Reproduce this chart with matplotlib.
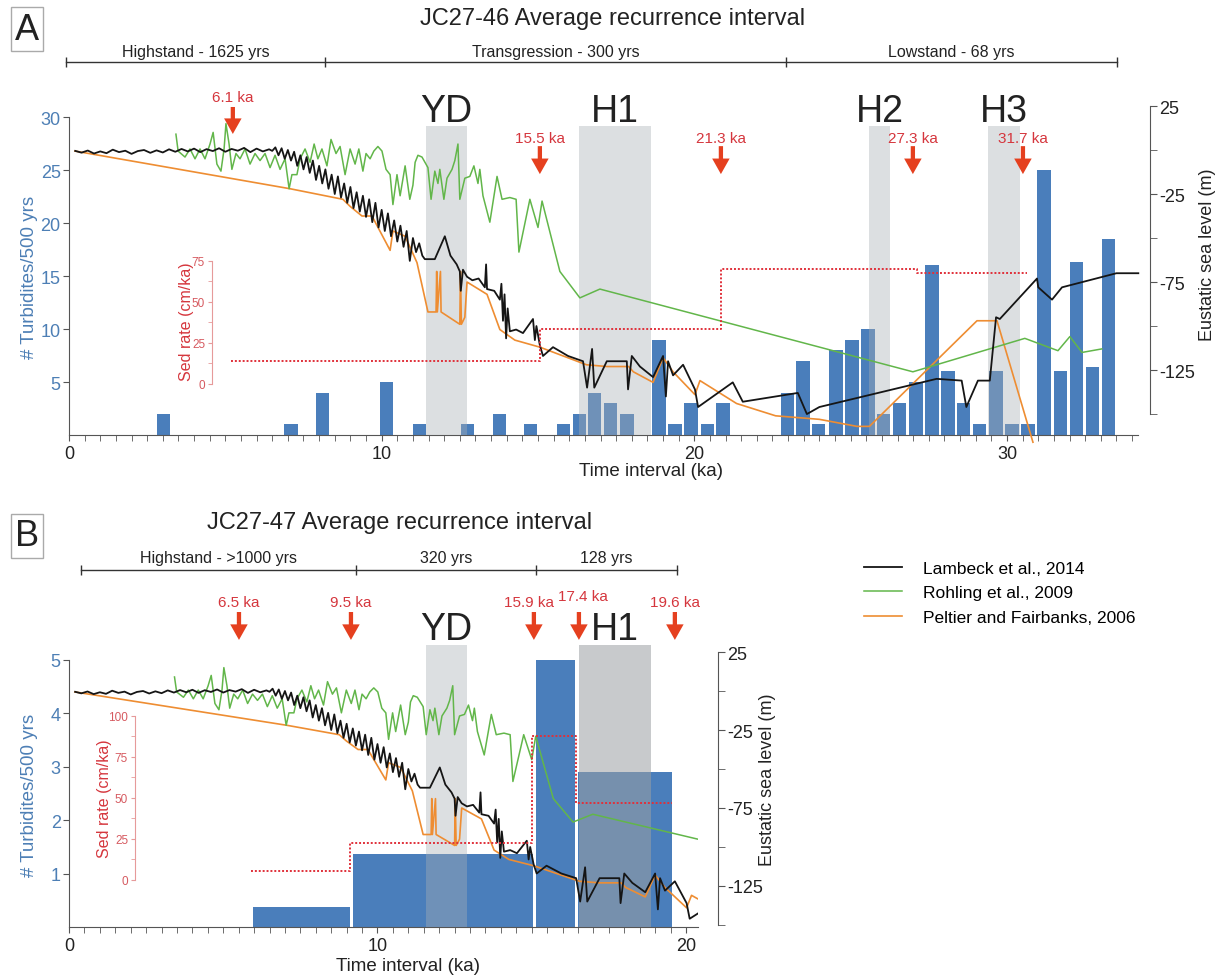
import matplotlib
matplotlib.use("Agg")
import matplotlib.pyplot as plt
import matplotlib.transforms as mtransforms
from matplotlib.ticker import MultipleLocator

plt.rcParams['font.family'] = ['Liberation Sans', 'DejaVu Sans']
plt.rcParams['axes.unicode_minus'] = False

W, H = 1226, 979

# ---------------- data ----------------
# JC27-46: turbidites per 500 yr bin (bin centre, ka)
a_bin_ka = [3.02, 7.10, 8.11, 10.15, 11.20, 12.74, 13.76, 14.77, 15.81, 16.32,
            16.81, 17.33, 17.85, 18.87, 19.38, 19.89, 20.41, 20.92, 22.98, 23.48,
            23.98, 24.53, 25.04, 25.55, 26.05, 26.57, 27.09, 27.60, 28.11, 28.62,
            29.13, 29.65, 30.16, 30.67, 31.18, 31.71, 32.22, 32.73, 33.24]
a_count = [2, 1, 4, 5, 1, 1, 2, 1, 1, 2,
           4, 3, 2, 9, 1, 3, 1, 3, 4, 7,
           1, 8, 9, 10, 2, 3, 5, 16, 6, 3,
           1, 6, 1, 1, 25, 6, 16.3, 6.4, 18.5]

# JC27-47: averaged turbidite frequency per interval
b_bin_start = [5.95, 9.20, 15.15, 16.50]
b_bin_end = [9.10, 15.05, 16.40, 19.55]
b_count = [0.37, 1.37, 5.0, 2.9]

# sedimentation rate steps (cm/ka)
a_sed_edges = [5.18, 15.06, 20.85, 27.12, 30.64]
a_sed_rate = [14, 33.5, 70, 67.7]
b_sed_edges = [5.90, 9.11, 15.0, 16.43, 19.55]
b_sed_rate = [5.7, 22.8, 87.8, 47]

# eustatic sea level curves (ka, m)
lambeck_ka = [0.2, 0.4, 0.6, 0.8, 1.0, 1.2, 1.4, 1.6, 1.8, 2.0, 2.2, 2.4, 2.6, 2.8,
              3.0, 3.2, 3.4, 3.6, 3.8, 4.0, 4.2, 4.4, 4.6, 4.8, 5.0, 5.2, 5.4, 5.6,
              5.8, 6.0, 6.2, 6.4, 6.5, 6.6, 6.7, 6.8, 6.9, 7.0, 7.1, 7.2, 7.3, 7.4,
              7.5, 7.6, 7.7, 7.8, 7.9, 8.0, 8.1, 8.2, 8.3, 8.4, 8.5, 8.6, 8.7, 8.8,
              8.9, 9.0, 9.1, 9.2, 9.3, 9.4, 9.5, 9.6, 9.7, 9.8, 9.9, 10.0, 10.1,
              10.2, 10.3, 10.4, 10.5, 10.6, 10.7, 10.8, 10.9, 11.0, 11.1, 11.2, 11.3,
              11.38, 11.7, 12.02, 12.2, 12.4, 12.5, 12.53, 12.6, 12.73, 12.9, 13.1,
              13.3, 13.34, 13.37, 13.6, 13.78, 13.83, 13.88, 13.93, 13.98, 14.03,
              14.1, 14.3, 14.52, 14.84, 14.9, 14.95, 15.06, 15.16, 15.48, 15.96,
              16.44, 16.57, 16.73, 16.8, 17.2, 17.84, 17.88, 18.0, 18.26, 18.68,
              19.0, 19.09, 19.16, 19.32, 19.64, 20.02, 20.12, 21.23, 21.55, 23.31,
              23.6, 24.0, 27.75, 28.55, 28.7, 29.07, 29.45, 29.65, 29.77, 30.96,
              31.0, 31.44, 31.76, 33.5, 34.2]
lambeck_m = [-0.5, -1.5, -0.3, -2.0, -0.8, -1.8, 0.2, -1.2, -0.4, -2.2, -0.6, 0.0, -1.6, -0.2,
             -1.4, 0.4, -1.0, 0.6, -0.8, 0.8, -1.2, 0.5, -0.6, 1.0, -1.0, 0.6, -0.4, 1.2,
             -1.2, 0.8, -0.8, 0.4, -0.5, 1.5, -3, 1, -5, 0, -6, -1, -9, -3,
             -11, -4, -13, -6, -17, -9, -19, -11, -22, -14, -25, -15, -27, -19,
             -30, -21, -33, -24, -35, -26, -38, -28, -41, -30, -44, -34, -46,
             -36, -49, -40, -52, -43, -55, -46, -63, -50, -58, -53, -60,
             -62, -62, -49, -60, -65, -69, -80, -68, -72, -74, -73,
             -78, -65, -79, -80, -85, -76, -97, -82, -107, -90,
             -103, -102, -104, -96, -108, -100, -111, -117, -112, -117,
             -120, -135, -113, -135, -120, -120, -136, -117, -123, -129,
             -117, -140, -120, -128, -122, -136, -146, -132, -143, -138,
             -150, -146, -130, -131, -146, -131, -131, -95, -96, -73,
             -78, -85, -78, -70, -70]

rohling_ka = [3.42, 3.49, 3.71, 3.87, 4.03, 4.19, 4.35, 4.51, 4.61, 4.73, 4.86, 4.96,
              5.02, 5.12, 5.21, 5.34, 5.47, 5.63, 5.79, 5.95, 6.11, 6.27, 6.43, 6.59,
              6.75, 6.91, 7.04, 7.13, 7.29, 7.39, 7.55, 7.71, 7.84, 7.96, 8.09, 8.25,
              8.38, 8.54, 8.67, 8.83, 8.99, 9.15, 9.27, 9.40, 9.50, 9.63, 9.75, 9.88,
              10.01, 10.14, 10.27, 10.36, 10.49, 10.59, 10.75, 10.90, 11.00, 11.07,
              11.16, 11.29, 11.48, 11.58, 11.70, 11.80, 11.86, 11.99, 12.09, 12.25,
              12.34, 12.44, 12.50, 12.66, 12.82, 12.95, 13.08, 13.14, 13.24, 13.46,
              13.69, 13.85, 14.10, 14.30, 14.39, 14.74, 15.00, 15.13, 15.70, 16.34,
              16.98, 26.99, 30.57, 31.63, 32.01, 32.40, 33.03]
rohling_m = [9, -0.6, -4, 0.6, -5, 0.6, -5, 3.4, 10, -8, -12, 0.6,
             15, 3.4, -11, -2, -5, 0.6, -8, -2, -6, -2, -10, -3,
             -11, -5, -22, -14, -14, -5, 0.6, -7, 3.4, -5, 0.6, -9,
             6, -2, 2, -14, 0.6, -8, 0.6, -12, -2, -5, -0.6, 2,
             -0.6, -11, -14, -31, -14, -26, -9, -28, -20, -7,
             -3, -4, -10, -28, -12, -19, -11, -28, -16, -11,
             -6, 3.4, -28, -16, -15, -9, -19, -11, -26, -41,
             -15, -28, -27, -28, -58, -28, -44, -29, -69, -84,
             -79, -126, -107, -114, -106, -115, -113]

peltier_ka = [0.19, 7.07, 8.76, 8.99, 9.37, 9.69, 10.27, 10.36, 10.75, 11.13, 11.48,
              11.74, 11.76, 11.78, 11.88, 11.90, 12.50, 12.52, 12.55, 12.66, 12.73,
              13.37, 13.78, 14.26, 15.06, 16.55, 17.20, 17.90, 18.05, 18.68, 19.00,
              19.32, 20.02, 20.18, 21.35, 22.60, 24.00, 24.60, 25.20, 25.60, 29.04,
              29.68, 30.83]
peltier_m = [-0.6, -22, -28, -32, -37.5, -37.5, -57, -46, -49, -64, -92,
             -92, -69, -92, -69, -92, -99, -69, -99, -95, -75,
             -82, -102, -108, -112, -122, -123, -123, -126, -132, -118,
             -126, -139, -131, -144, -151, -153, -155, -157, -157, -97,
             -97, -166]

# climate events (ka)
a_events = ['YD', 'H1', 'H2', 'H3']
a_event_start = [11.42, 16.31, 25.58, 29.39]
a_event_end = [12.73, 18.61, 26.26, 30.41]
b_events = ['YD', 'H1']
b_event_start = [11.57, 16.53]
b_event_end = [12.90, 18.87]

# sed-rate change arrows
a_arrow_ka = [5.24, 15.06, 20.85, 26.99, 30.51]
a_arrow_lbl = ['6.1 ka', '15.5 ka', '21.3 ka', '27.3 ka', '31.7 ka']
b_arrow_ka = [5.51, 9.14, 15.07, 16.53, 19.64]
b_arrow_lbl = ['6.5 ka', '9.5 ka', '15.9 ka', '17.4 ka', '19.6 ka']

# sea level stands (ka)
a_stand_edges = [-0.1, 8.19, 22.93, 33.51]
a_stand_lbl = ['Highstand - 1625 yrs', 'Transgression - 300 yrs', 'Lowstand - 68 yrs']
b_stand_edges = [0.39, 9.30, 15.14, 19.71]
b_stand_lbl = ['Highstand - >1000 yrs', '320 yrs', '128 yrs']

# ---------------- style ----------------
BAR = '#4a7ebb'
BLUE_TXT = '#4d7fb5'
RED_TXT = '#d5363d'
ARROW = '#e5401f'
SPINE = '#555555'
C_LAMB = '#151515'
C_ROHL = '#62b64a'
C_PELT = '#ee8d32'
PT = 72 / 100  # points per pixel at dpi 100

fig = plt.figure(figsize=(W / 100, H / 100), dpi=100)


def px_axes(x0, y0, x1, y1):
    return fig.add_axes([x0 / W, 1 - y1 / H, (x1 - x0) / W, (y1 - y0) / H])


def ftext(x, y, s, **kw):
    fig.text(x / W, 1 - y / H, s, **kw)


def blend(ax):
    return mtransforms.blended_transform_factory(ax.transData, ax.transAxes)


def panel(box, xmax, ytop, yticks, sl_lim, sed_lim, sed_pos, sed_ticks, sl_offset_px,
          clip_lines):
    ax = px_axes(*box)
    ax.set_xlim(0, xmax)
    ax.set_ylim(0, ytop)
    for s in ['top', 'right']:
        ax.spines[s].set_visible(False)
    for s in ['left', 'bottom']:
        ax.spines[s].set_color(SPINE)
    ax.spines['left'].set_bounds(0, yticks[-1])
    ax.set_yticks(yticks)
    ax.tick_params(axis='y', colors=SPINE, labelcolor=BLUE_TXT, labelsize=13,
                   length=4, pad=2)
    ax.xaxis.set_minor_locator(MultipleLocator(0.5))
    ax.tick_params(axis='x', which='both', colors=SPINE, labelcolor='#222',
                   labelsize=13, length=4, pad=3)

    # sea level axis
    sl = ax.twinx()
    sl.set_ylim(*sl_lim)
    for s in ['top', 'left', 'bottom']:
        sl.spines[s].set_visible(False)
    sl.spines['right'].set_position(('outward', sl_offset_px * PT))
    sl.spines['right'].set_bounds(-150, 25)
    sl.spines['right'].set_color(SPINE)
    sl.set_yticks([25, -25, -75, -125])
    sl.set_yticks([0, -50, -100, -150], minor=True)
    sl.tick_params(axis='y', which='both', colors=SPINE, labelcolor='#222',
                   labelsize=13, length=5, pad=1.5)
    lp, = sl.plot(peltier_ka, peltier_m, color=C_PELT, lw=1.2, clip_on=clip_lines)
    lr, = sl.plot(rohling_ka, rohling_m, color=C_ROHL, lw=1.1, clip_on=clip_lines)
    ll, = sl.plot(lambeck_ka, lambeck_m, color=C_LAMB, lw=1.3, clip_on=clip_lines)

    # sed rate inset axis
    sd = ax.twinx()
    sd.set_ylim(*sed_lim)
    for s in sd.spines.values():
        s.set_visible(False)
    sd.yaxis.tick_left()
    sd.spines['left'].set_visible(True)
    sd.spines['left'].set_position(('axes', sed_pos))
    sd.spines['left'].set_bounds(0, sed_ticks[-1])
    sd.spines['left'].set_color('#e69a9a')
    sd.set_yticks(sed_ticks)
    sd.set_yticks([t + 12.5 for t in sed_ticks[:-1]], minor=True)
    sd.tick_params(axis='y', which='both', colors='#e69a9a', labelcolor='#d65a60',
                   labelsize=8.5, length=3, pad=2)
    return ax, sl, sd, (ll, lr, lp)


def stand_bar(ax, edges, labels, y_line, y_text):
    tr = blend(ax)
    ax.plot(edges, [y_line] * len(edges), color='#333', lw=1, marker='|', ms=7,
            mew=1, transform=tr, clip_on=False)
    for i, lbl in enumerate(labels):
        ax.text((edges[i] + edges[i + 1]) / 2, y_text, lbl, transform=tr,
                ha='center', va='center', fontsize=11.5, color='#222')


def arrow(ax, x, y_top, y_tip, lbl, y_lbl, dx=0.0):
    tr = blend(ax)
    ax.annotate('', xy=(x, y_tip), xytext=(x, y_top), xycoords=tr, textcoords=tr,
                arrowprops=dict(arrowstyle='simple,head_width=0.9,head_length=0.8,'
                                'tail_width=0.22', color=ARROW, lw=0,
                                shrinkA=0, shrinkB=0, mutation_scale=14))
    ax.text(x + dx, y_lbl, lbl, transform=tr, ha='center', va='center',
            fontsize=11, color=RED_TXT)


# ================= panel A =================
axA, slA, sdA, lines = panel((69, 107, 1138, 436), 34.19, 31.04, [5, 10, 15, 20, 25, 30],
                             (-161.9, 25), (-31.1, 169.5), 0.1338, [0, 25, 50, 75], 12,
                             False)
axA.set_xticks([0, 10, 20, 30])
for t in axA.get_xticklabels():
    t.set_family(['Liberation Sans Narrow', 'Liberation Sans'])
axA.bar(a_bin_ka, a_count, width=0.425, color=BAR, zorder=2)
for s, e, name in zip(a_event_start, a_event_end, a_events):
    axA.axvspan(s, e, ymin=0, ymax=0.939, fc='#a9afb5', alpha=0.4, lw=0, zorder=3)
    axA.text((s + e) / 2, 0.954, name, transform=blend(axA), ha='center',
             va='baseline', fontsize=27, color='#222')
sdA.step(a_sed_edges, a_sed_rate + [a_sed_rate[-1]], where='post', color='#e0303a',
         lw=1.4, ls=(0, (1, 1)))
for i, (x, lbl) in enumerate(zip(a_arrow_ka, a_arrow_lbl)):
    if i == 0:
        arrow(axA, x, 0.997, 0.915, lbl, 1.027)
    else:
        arrow(axA, x, 0.878, 0.793, lbl, 0.903)
stand_bar(axA, a_stand_edges, a_stand_lbl, 1.134, 1.167)
axA.text(18.6, -0.108, 'Time interval (ka)', transform=blend(axA), ha='center',
         va='center', fontsize=13.5, color='#222',
         family=['Liberation Sans Narrow', 'Liberation Sans'])

ftext(30, 277, '# Turbidites/500 yrs', rotation=90, ha='center', va='center',
      fontsize=13.5, color=BLUE_TXT)
ftext(1208, 255, 'Eustatic sea level (m)', rotation=90, ha='center', va='center',
      fontsize=13, color='#222')
ftext(186, 322, 'Sed rate (cm/ka)', rotation=90, ha='center', va='center',
      fontsize=11.5, color=RED_TXT)
ftext(613, 19, 'JC27-46 Average recurrence interval', ha='center', va='center',
      fontsize=17, color='#222')
ftext(27, 30, 'A', ha='center', va='center', fontsize=26, color='#222',
      bbox=dict(boxstyle='square,pad=0.12', fc='white', ec='#aaaaaa', lw=1))

# ================= panel B =================
axB, slB, sdB, _ = panel((69, 646, 698, 928), 20.39, 5.275, [1, 2, 3, 4, 5],
                         (-151.3, 29.5), (-28.7, 143.3), 0.105, [0, 25, 50, 75, 100],
                         20, True)
axB.set_xticks([0, 10, 20])
for s, e, c in zip(b_bin_start, b_bin_end, b_count):
    axB.bar(s, c, width=e - s, align='edge', color=BAR, zorder=2)
b_band_col = ['#a9afb5', '#9b9fa3']
b_band_alpha = [0.4, 0.55]
for i, (s, e, name) in enumerate(zip(b_event_start, b_event_end, b_events)):
    axB.axvspan(s, e, ymin=0, ymax=1.0, fc=b_band_col[i], alpha=b_band_alpha[i],
                lw=0, zorder=3)
    axB.text((s + e) / 2, 1.021, name, transform=blend(axB), ha='center',
             va='baseline', fontsize=27, color='#222')
sdB.step(b_sed_edges, b_sed_rate + [b_sed_rate[-1]], where='post', color='#e0303a',
         lw=1.4, ls=(0, (1, 1)))
b_lbl_dx = [0, 0, -0.15, 0.13, 0]
b_lbl_y = [1.152, 1.152, 1.152, 1.174, 1.152]
for x, lbl, dx, yl in zip(b_arrow_ka, b_arrow_lbl, b_lbl_dx, b_lbl_y):
    arrow(axB, x, 1.117, 1.018, lbl, yl, dx)
stand_bar(axB, b_stand_edges, b_stand_lbl, 1.266, 1.309)
axB.text(11.0, -0.138, 'Time interval (ka)', transform=blend(axB), ha='center',
         va='center', fontsize=13.5, color='#222')

ftext(30, 795, '# Turbidites/500 yrs', rotation=90, ha='center', va='center',
      fontsize=13.5, color=BLUE_TXT)
ftext(768, 780, 'Eustatic sea level (m)', rotation=90, ha='center', va='center',
      fontsize=13, color='#222')
ftext(105, 799, 'Sed rate (cm/ka)', rotation=90, ha='center', va='center',
      fontsize=11.5, color=RED_TXT)
ftext(400, 523, 'JC27-47 Average recurrence interval', ha='center', va='center',
      fontsize=17, color='#222')
ftext(27, 537, 'B', ha='center', va='center', fontsize=26, color='#222',
      bbox=dict(boxstyle='square,pad=0.12', fc='white', ec='#aaaaaa', lw=1))

# legend
fig.legend(lines, ['Lambeck et al., 2014', 'Rohling et al., 2009',
                   'Peltier and Fairbanks, 2006'],
           loc='upper left', bbox_to_anchor=(848 / W, 1 - 546 / H), frameon=False,
           fontsize=12.5, handlelength=2.2, handletextpad=1.2, labelspacing=0.55)

fig.savefig('out.png', dpi=100)
